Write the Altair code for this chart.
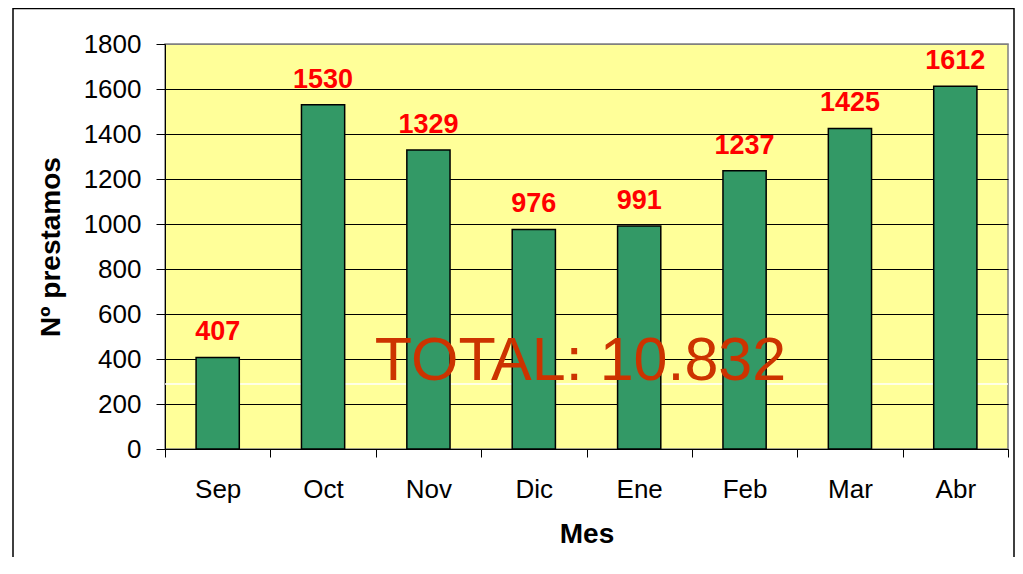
import altair as alt
import pandas as pd

MONTHS = ["Sep", "Oct", "Nov", "Dic", "Ene", "Feb", "Mar", "Abr"]
PRESTAMOS = [407, 1530, 1329, 976, 991, 1237, 1425, 1612]
Y_TICKS = [0, 200, 400, 600, 800, 1000, 1200, 1400, 1600, 1800]
WHITE_LINE = [289]
TOTAL_TEXT = ["TOTAL: 10.832"]
TOTAL_Y = [307]

df = pd.DataFrame({"mes": MONTHS, "n": PRESTAMOS})
FONT = "Liberation Sans, Arial, sans-serif"
W, H = 843, 405

x_enc = alt.X(
    "mes:N", sort=MONTHS, title="Mes",
    scale=alt.Scale(paddingInner=0, paddingOuter=0),
    axis=alt.Axis(labelAngle=0, tickBand="extent", tickSize=8, tickColor="black",
                  labelPadding=19, labelFontSize=26, labelFont=FONT, labelColor="black",
                  titleFont=FONT, titleFontSize=28, titleFontWeight="bold", titleColor="black",
                  titlePadding=18, domainColor="black", domainWidth=1, grid=False),
)
y_enc = alt.Y(
    "n:Q", title="Nº prestamos",
    scale=alt.Scale(domain=[0, 1800], nice=False),
    axis=alt.Axis(values=Y_TICKS, format="d", tickSize=9, tickColor="black", labelPadding=15,
                  labelFontSize=26, labelFont=FONT, labelColor="black",
                  titleFont=FONT, titleFontSize=28, titleFontWeight="bold", titleColor="black",
                  titlePadding=18, domainColor="black", domainWidth=1,
                  grid=True, gridWidth=1,
                  gridColor=alt.condition("datum.value >= 1800", alt.value("#808080"), alt.value("black"))),
)

base = alt.Chart(df)

white = alt.Chart(pd.DataFrame({"v": WHITE_LINE})).mark_rule(color="white", strokeWidth=1.5).encode(
    y=alt.Y("v:Q", scale=alt.Scale(domain=[0, 1800], nice=False))
)

bars = base.mark_bar(width=alt.RelativeBandSize(0.41), color="#339966", stroke="black",
                     strokeWidth=1.5).encode(x=x_enc, y=y_enc)

labels = base.mark_text(color="#FF0000", fontWeight="bold", fontSize=27, font=FONT,
                        baseline="alphabetic", dy=-17).encode(
    x=alt.X("mes:N", sort=MONTHS), y=alt.Y("n:Q"), text="n:Q"
)

total = alt.Chart(pd.DataFrame({"t": TOTAL_TEXT, "y": TOTAL_Y})).mark_text(
    color="#CC3300", fontSize=61, font=FONT,
    baseline="alphabetic", align="center"
).encode(x=alt.value(W / 2 - 6), y=alt.Y("y:Q"), text="t:N")

border = alt.Chart(pd.DataFrame({"a": [0]})).mark_rect(
    fill="transparent", stroke="black", strokeWidth=1.5, clip=False
).encode(x=alt.value(-152), x2=alt.value(849), y=alt.value(-35.5), y2=alt.value(700))

chart = alt.layer(white, bars, labels, total, border).properties(
    width=W, height=H,
    autosize=alt.AutoSizeParams(type="none"),
    padding={"left": 157, "top": 36, "right": 7, "bottom": 108},
    background="white",
).configure_view(fill="#FFFF99", stroke="#808080", strokeWidth=1.5)

chart.save("out.html", embed_options={"renderer": "svg", "actions": False})
